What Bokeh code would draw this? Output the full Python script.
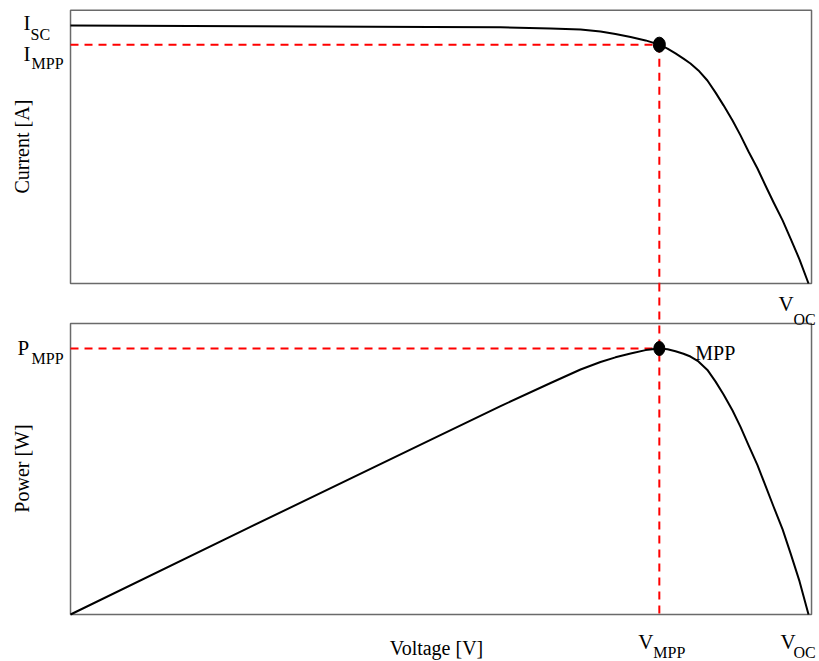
import math
from bokeh.plotting import figure
from bokeh.models import Range1d, Label
from bokeh.embed import file_html
from bokeh.resources import INLINE

# ---- data ----
voltage = [0.0, 9.02, 18.05, 21.56, 24.07, 25.57, 26.57, 27.32, 28.08, 28.83,
           29.52, 29.93, 30.33, 30.73, 31.08, 31.48, 31.93, 32.34, 32.74, 33.19,
           33.59, 33.99, 34.44, 34.84, 35.25, 35.70, 36.10, 36.55, 37.00]
current = [8.50, 8.48, 8.45, 8.44, 8.40, 8.37, 8.30, 8.22, 8.12, 8.01,
           7.87, 7.74, 7.58, 7.41, 7.25, 7.02, 6.69, 6.29, 5.87, 5.37,
           4.88, 4.35, 3.79, 3.23, 2.67, 2.08, 1.48, 0.79, 0.0]
power = [0.0, 76.5, 152.5, 182.0, 202.2, 214.0, 220.5, 224.6, 228.0, 230.9,
         232.3, 231.7, 229.9, 227.7, 225.3, 221.0, 213.6, 203.4, 192.2, 178.2,
         163.9, 147.9, 130.5, 112.5, 94.1, 74.3, 53.4, 28.9, 0.0]

V_MPP = 29.52
I_MPP = 7.87
P_MPP = 232.3
I_SC = 8.50
V_OC = 37.0

# panel extents (axis ranges of each panel)
V_MAX = 37.15
I_MAX = 9.0
P_MAX = 254.1

FONT = "Liberation Serif"
RED = "#ff0000"
DASH = "8 6"
BOX = "#6a6a6a"
BIG = 21
SUB = 16

p = figure(width=819, height=661,
           x_range=Range1d(-3.51, 37.55), y_range=Range1d(-12.455, 9.325),
           output_backend="svg", toolbar_location=None,
           min_border_left=0, min_border_right=0, min_border_top=0, min_border_bottom=0)
p.extra_y_ranges = {"power": Range1d(-41.05, 536.24)}
p.xaxis.visible = False
p.yaxis.visible = False
p.grid.visible = False
p.outline_line_color = None
p.background_fill_color = "white"
p.border_fill_color = "white"


def lab(text, x, y, dx, dy, size, rng="default", align="left",
        baseline="alphabetic", angle=0.0):
    p.add_layout(Label(x=x, y=y, x_offset=dx, y_offset=dy, text=text,
                       y_range_name=rng,
                       text_font=FONT, text_font_size=f"{size}px", text_color="black",
                       text_align=align, text_baseline=baseline, angle=angle))


# ---- panel frames ----
p.quad(left=[0], right=[V_MAX], bottom=[0], top=[I_MAX],
       fill_color=None, line_color=BOX, line_width=1.5)
p.quad(left=[0], right=[V_MAX], bottom=[0], top=[P_MAX], y_range_name="power",
       fill_color=None, line_color=BOX, line_width=1.5)

# ---- top: I-V ----
p.line([0, V_MPP], [I_MPP, I_MPP], line_color=RED, line_width=2, line_dash=DASH)
p.line([V_MPP, V_MPP], [I_MPP, 0], line_color=RED, line_width=2, line_dash=DASH)
p.line(voltage, current, line_color="black", line_width=2, line_join="round")
p.ellipse(x=[V_MPP], y=[I_MPP], width=12, height=15, width_units="screen",
          height_units="screen", fill_color="black", line_color="black")

# ---- bottom: P-V ----
p.line([0, V_MPP], [P_MPP, P_MPP], y_range_name="power",
       line_color=RED, line_width=2, line_dash=DASH)
p.line([V_MPP, V_MPP], [289.1, 0], y_range_name="power",
       line_color=RED, line_width=2, line_dash=DASH)
p.line(voltage, power, y_range_name="power",
       line_color="black", line_width=2, line_join="round")
p.ellipse(x=[V_MPP], y=[P_MPP], width=11, height=14, width_units="screen",
          height_units="screen", y_range_name="power",
          fill_color="black", line_color="black")

# ---- texts ----
lab("I", 0, I_SC, -47, 3, BIG)
lab("SC", 0, I_SC, -40, -9, SUB)
lab("I", 0, I_MPP, -47, -9, BIG)
lab("MPP", 0, I_MPP, -39, -19, SUB)
lab("Current [A]", 0, 4.51, -49, 0, 20, align="center", baseline="middle",
    angle=math.pi / 2)
lab("V", V_OC, 0, -30, -20, BIG)
lab("OC", V_OC, 0, -15, -36, SUB)

lab("P", 0, P_MPP, -53, 1, BIG, rng="power")
lab("MPP", 0, P_MPP, -39, -10, SUB, rng="power")
lab("MPP", V_MPP, P_MPP, 36, -4, 20, rng="power")
lab("V", V_MPP, 0, -21, -28, BIG, rng="power")
lab("MPP", V_MPP, 0, -6, -38, SUB, rng="power")
lab("V", V_OC, 0, -28, -28, BIG, rng="power")
lab("OC", V_OC, 0, -15, -38, SUB, rng="power")
lab("Voltage [V]", 0, 0, 366, -34, 20, rng="power", align="center")
lab("Power [W]", 0, 127.5, -49, 0, 20, rng="power", align="center",
    baseline="middle", angle=math.pi / 2)

open("out.html", "w").write(file_html(p, INLINE))
